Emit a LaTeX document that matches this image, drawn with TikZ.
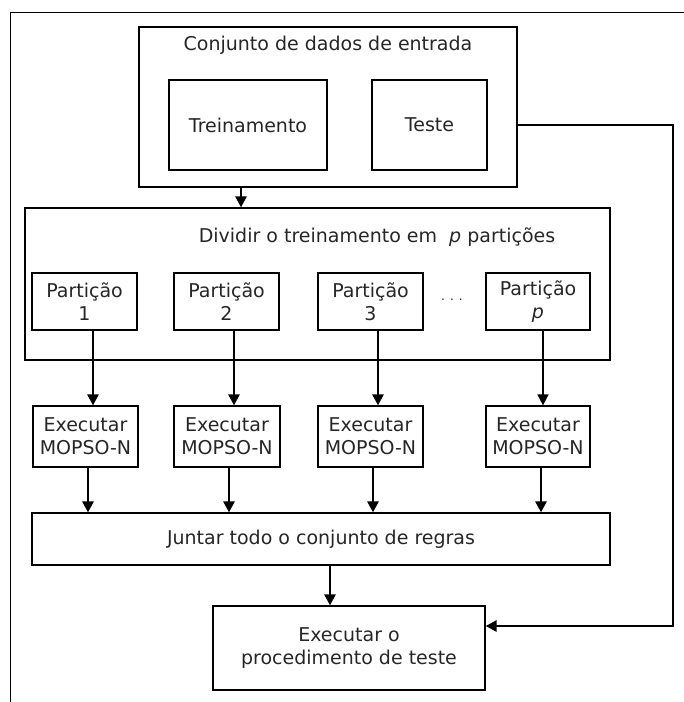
\documentclass[tikz,border=0pt]{standalone}
\usepackage{fontspec}
\setmainfont{DejaVu Sans}
\usetikzlibrary{arrows.meta}

\tikzset{
  box/.style={draw, inner sep=0pt, align=center, text=black!85,
    font=\fontsize{9.5}{11.5}\selectfont},
  txt/.style={inner sep=0pt, text=black!85, font=\fontsize{9.5}{11.5}\selectfont},
  arr/.style={line width=1.3pt, -{Triangle[length=5.5pt,width=5.5pt]}}
}

\begin{document}
\begin{tikzpicture}[x=0.5pt,y=-0.5pt,line width=0.6pt]
    \useasboundingbox (0,0) rectangle (684,702);
    % frame
    \draw[line width=0.5pt] (684,12) -- (10,12) -- (10,702);

    % input data
    \node[box, minimum width=189pt, minimum height=80pt] (entrada) at (328,107) {};
    \node[txt] (entrada_t) at (328,45) {Conjunto de dados de entrada};
    \node[box, minimum width=79pt, minimum height=45pt] (treino) at (248,125) {Treinamento};
    \node[box, minimum width=57.5pt, minimum height=45pt] (teste) at (429.5,125) {Teste};

    % partitions
    \node[box, minimum width=292.5pt, minimum height=76pt] (dividir) at (317.5,284) {};
    \node[txt] (dividir_t) at (377,237) {Dividir o treinamento em \ \textit{p} partições};
    \node[box, minimum width=52.5pt, minimum height=28.5pt] (p_1) at (84.5,301.5) {Partição\\1};
    \node[box, minimum width=52.5pt, minimum height=28.5pt] (p_2) at (226.5,301.5) {Partição\\2};
    \node[box, minimum width=52.5pt, minimum height=28.5pt] (p_3) at (370.5,301.5) {Partição\\3};
    \node[txt] (dots) at (452,300) {\fontsize{6}{6}\selectfont. . .};
    \node[box, minimum width=52pt, minimum height=28.5pt] (p_p) at (538,301.5) {Partição\\\textit{p}};

    % MOPSO-N runs
    \node[box, minimum width=52.5pt, minimum height=30.5pt] (e_1) at (85.5,436.5) {Executar\\MOPSO-N};
    \node[box, minimum width=53pt, minimum height=30.5pt] (e_2) at (227,436.5) {Executar\\MOPSO-N};
    \node[box, minimum width=52.5pt, minimum height=30.5pt] (e_3) at (370.5,436.5) {Executar\\MOPSO-N};
    \node[box, minimum width=52pt, minimum height=30.5pt] (e_p) at (538,436.5) {Executar\\MOPSO-N};

    \node[box, minimum width=289pt, minimum height=26pt] (juntar) at (321,539) {Juntar todo o conjunto de regras};
    \node[box, minimum width=136pt, minimum height=42pt] (proc) at (349,648) {Executar o\\procedimento de teste};

    \draw[arr] (entrada.south -| 241,0) -- (dividir.north -| 241,0);
    \draw[arr] (p_1.south -| 93,0) -- (e_1.north -| 93,0);
    \draw[arr] (p_2.south -| 234,0) -- (e_2.north -| 234,0);
    \draw[arr] (p_3.south -| 378,0) -- (e_3.north -| 378,0);
    \draw[arr, line width=0.8pt] (p_p.south -| 543,0) -- (e_p.north -| 543,0);
    \draw[arr] (e_1.south -| 88,0) -- (juntar.north -| 88,0);
    \draw[arr] (e_2.south -| 229,0) -- (juntar.north -| 229,0);
    \draw[arr] (e_3.south -| 373,0) -- (juntar.north -| 373,0);
    \draw[arr] (e_p.south -| 541,0) -- (juntar.north -| 541,0);
    \draw[arr] (juntar.south -| 330,0) -- (proc.north -| 330,0);
    \draw[arr] (entrada.east |- 0,125) -- (673,125) |- (proc.east |- 0,626);
\end{tikzpicture}
\end{document}
